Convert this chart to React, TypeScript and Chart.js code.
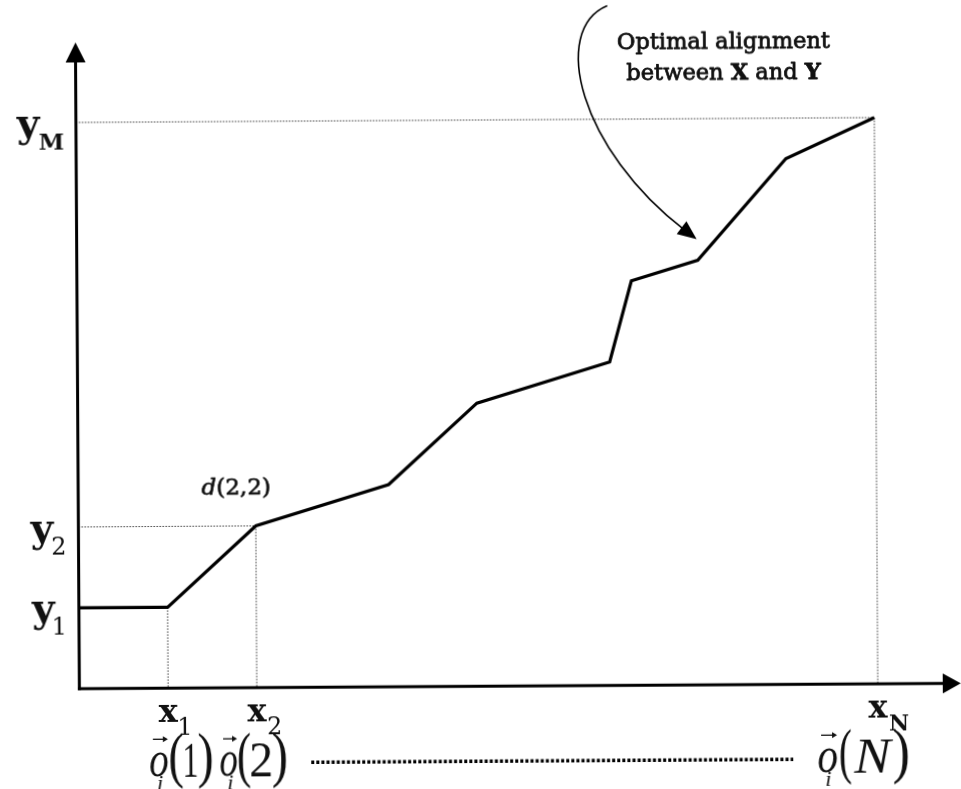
import React, { useEffect, useRef } from 'react';
import { Chart, registerables } from 'chart.js';

Chart.register(...registerables);

// Warping path through the (x_n, y_m) grid
const pathX = [0, 1, 2, 3.5, 4.5, 6, 6.25, 7, 8, 9];
const pathY = [1, 1, 2, 2.5, 3.5, 4, 5, 5.25, 6.5, 7];

// Axis marks
const xMarks = [1, 2, 9];
const xMarkSubs = ['1', '2', 'N'];
const yMarks = [1, 2, 7];
const yMarkSubs = ['1', '2', 'M'];
const obsArgs = ['1', '2', 'N'];

// Annotations
const noteLine1 = 'Optimal alignment';
const noteLine2 = ['between ', 'X', ' and ', 'Y'];
const noteBoldParts = ['X', 'Y'];
const notePoint = [7, 5.25];
const costName = 'd';
const costArgs = '(2,2)';
const costPoint = [2, 2];

const X_MAX = 9;
const Y_MAX = 7;

const SERIF = '"DejaVu Serif", serif';
const TIMES = '"Liberation Serif", Tinos, "Times New Roman", Times, serif';
const INK = '#111';

function seg(ctx: any, a: number, b: number, c: number, d: number) {
  ctx.beginPath();
  ctx.moveTo(a, b);
  ctx.lineTo(c, d);
  ctx.stroke();
}

function tri(ctx: any, pts: number[][]) {
  ctx.beginPath();
  ctx.moveTo(pts[0][0], pts[0][1]);
  ctx.lineTo(pts[1][0], pts[1][1]);
  ctx.lineTo(pts[2][0], pts[2][1]);
  ctx.closePath();
  ctx.fill();
}

function isUpper(s: string) {
  return /[A-Z]/.test(s);
}

function heavyText(ctx: any, s: string, x: number, y: number, w: number) {
  ctx.fillText(s, x, y);
  if (w > 0) {
    ctx.lineWidth = w;
    ctx.strokeStyle = ctx.fillStyle;
    ctx.lineJoin = 'round';
    ctx.strokeText(s, x, y);
  }
}

// draw a glyph so that its ink fills the box [l, r] x [t, b]
function fitText(ctx: any, s: string, font: string, l: number, r: number, t: number, b: number) {
  ctx.save();
  ctx.font = font;
  ctx.textAlign = 'left';
  ctx.textBaseline = 'alphabetic';
  const m = ctx.measureText(s);
  const w = m.actualBoundingBoxLeft + m.actualBoundingBoxRight;
  const h = m.actualBoundingBoxAscent + m.actualBoundingBoxDescent;
  const sx = w > 0 ? (r - l) / w : 1;
  const sy = h > 0 ? (b - t) / h : 1;
  ctx.translate(l, t);
  ctx.scale(sx, sy);
  ctx.fillText(s, m.actualBoundingBoxLeft, m.actualBoundingBoxAscent);
  ctx.restore();
}

// ink boxes (relative to group left / baseline) for  o_i ( arg )
const OBS_LAYOUT: Record<string, number[][]> = {
  '1': [[0, 18], [20, 33], [35, 47], [49, 62]],
  '2': [[0, 17], [18, 30], [31, 51], [53, 66]],
  N: [[0, 19], [22, 33], [35, 76], [76, 90]],
};

function drawObs(ctx: any, left: number, base: number, arg: string) {
  const lay = OBS_LAYOUT[arg] || OBS_LAYOUT['2'];
  ctx.fillStyle = INK;
  const [o, po, a, pc] = lay;
  fitText(ctx, 'o', `italic 52px ${TIMES}`, left + o[0], left + o[1], base - 25, base + 0.5);
  // vector arrow over o
  const ay = base - 37;
  const ar = left + o[1];
  ctx.save();
  ctx.strokeStyle = INK;
  ctx.fillStyle = INK;
  ctx.lineWidth = 1.3;
  seg(ctx, left + o[0] + 3, ay, ar - 3, ay);
  tri(ctx, [
    [ar, ay],
    [ar - 5, ay - 3],
    [ar - 5, ay + 3],
  ]);
  ctx.restore();
  // subscript i
  fitText(ctx, 'i', `italic 22px ${TIMES}`, left + 8, left + 13, base, base + 14);
  fitText(ctx, '(', `64px ${TIMES}`, left + po[0], left + po[1], base - 43, base + 13);
  fitText(
    ctx,
    arg,
    isUpper(arg) ? `italic 52px ${TIMES}` : `48px ${TIMES}`,
    left + a[0],
    left + a[1],
    base - 33,
    base + 0.5
  );
  fitText(ctx, ')', `64px ${TIMES}`, left + pc[0], left + pc[1], base - 43, base + 13);
  return left + pc[1];
}

const decor = {
  id: 'decor',
  beforeDraw(chart: any) {
    const { ctx, width, height } = chart;
    ctx.save();
    ctx.fillStyle = '#ffffff';
    ctx.fillRect(0, 0, width, height);
    ctx.restore();
  },
  beforeDatasetsDraw(chart: any) {
    const ctx = chart.ctx;
    const xs = chart.scales.x;
    const ys = chart.scales.y;
    const x0 = xs.getPixelForValue(0);
    const y0 = ys.getPixelForValue(0);

    // dotted guide lines
    ctx.save();
    ctx.strokeStyle = '#3a3a3a';
    ctx.lineWidth = 1;
    ctx.setLineDash([1.5, 1.5]);
    xMarks.forEach((v) => {
      const k = pathX.indexOf(v);
      const py = ys.getPixelForValue(pathY[k]);
      const px = xs.getPixelForValue(v);
      seg(ctx, px, py, px, y0);
    });
    yMarks.forEach((v) => {
      const k = pathY.indexOf(v);
      const px = xs.getPixelForValue(pathX[k]);
      const py = ys.getPixelForValue(v);
      if (px - x0 > 1) seg(ctx, x0, py, px, py);
    });
    ctx.restore();

    // axes with arrow heads
    const topY = ys.getPixelForValue(Y_MAX) - 80;
    const rightX = xs.getPixelForValue(X_MAX) + 83;
    ctx.save();
    ctx.strokeStyle = '#000';
    ctx.fillStyle = '#000';
    ctx.lineWidth = 3;
    seg(ctx, x0, y0 + 1.5, x0, topY + 18);
    tri(ctx, [
      [x0, topY],
      [x0 - 10, topY + 20],
      [x0 + 10, topY + 20],
    ]);
    seg(ctx, x0 - 1.5, y0, rightX - 16, y0);
    tri(ctx, [
      [rightX, y0],
      [rightX - 18, y0 - 10],
      [rightX - 18, y0 + 10],
    ]);
    ctx.restore();
  },
  afterDatasetsDraw(chart: any) {
    const ctx = chart.ctx;
    const xs = chart.scales.x;
    const ys = chart.scales.y;
    const x0 = xs.getPixelForValue(0);
    const y0 = ys.getPixelForValue(0);
    ctx.save();
    ctx.fillStyle = INK;
    ctx.textBaseline = 'alphabetic';

    // y labels
    yMarks.forEach((v, i) => {
      const py = ys.getPixelForValue(v);
      const sub = yMarkSubs[i];
      ctx.font = isUpper(sub) ? `bold 23px ${SERIF}` : `24px ${SERIF}`;
      ctx.textAlign = 'right';
      const subRight = x0 - 12;
      ctx.fillText(sub, subRight, py + 27);
      const m = ctx.measureText(sub);
      const subLeft = subRight - m.actualBoundingBoxLeft;
      ctx.font = `bold 39px ${SERIF}`;
      ctx.fillText('y', subLeft + 1, py + 14);
    });

    // x labels
    xMarks.forEach((v, i) => {
      const px = xs.getPixelForValue(v);
      ctx.font = `bold 32px ${SERIF}`;
      ctx.textAlign = 'center';
      ctx.fillText('x', px, y0 + 34);
      const w = ctx.measureText('x').actualBoundingBoxRight;
      const sub = xMarkSubs[i];
      ctx.font = isUpper(sub) ? `bold 22px ${SERIF}` : `24px ${SERIF}`;
      ctx.textAlign = 'left';
      const m = ctx.measureText(sub);
      ctx.fillText(sub, px + w + 0.5 + m.actualBoundingBoxLeft, y0 + 47);
    });

    // observation vectors row
    const base = y0 + 88;
    drawObs(ctx, xs.getPixelForValue(xMarks[0]) - 18.5, base, obsArgs[0]);
    const g2Right = drawObs(ctx, xs.getPixelForValue(xMarks[1]) - 37, base, obsArgs[1]);
    const gNLeft = xs.getPixelForValue(xMarks[2]) - 60;
    drawObs(ctx, gNLeft, base, obsArgs[2]);
    ctx.save();
    ctx.strokeStyle = '#000';
    ctx.lineWidth = 3.4;
    ctx.setLineDash([3, 2.1]);
    seg(ctx, g2Right + 25, base - 13, gNLeft - 25, base - 13);
    ctx.restore();

    // cost label d(2,2)
    {
      const cx = xs.getPixelForValue(costPoint[0]) - 54;
      const cy = ys.getPixelForValue(costPoint[1]) - 31.5;
      ctx.textAlign = 'left';
      ctx.font = `italic 23px ${SERIF}`;
      heavyText(ctx, costName, cx, cy, 0.7);
      const w = ctx.measureText(costName).width;
      ctx.font = `23px ${SERIF}`;
      heavyText(ctx, costArgs, cx + w, cy, 0.7);
    }

    // note + curved arrow
    const tx = xs.getPixelForValue(notePoint[0]) - 1;
    const ty = ys.getPixelForValue(notePoint[1]) - 21;
    const p0 = [tx - 88, ty - 234];
    const p1 = [tx - 146, ty - 210];
    const p2 = [tx - 116, ty - 90];
    const dx = tx - p2[0];
    const dy = ty - p2[1];
    const dl = Math.hypot(dx, dy);
    const ux = dx / dl;
    const uy = dy / dl;
    const bx = tx - 19 * ux;
    const by = ty - 19 * uy;
    ctx.save();
    ctx.strokeStyle = '#000';
    ctx.fillStyle = '#000';
    ctx.lineWidth = 1.6;
    ctx.beginPath();
    ctx.moveTo(p0[0], p0[1]);
    ctx.bezierCurveTo(p1[0], p1[1], p2[0], p2[1], bx + 4 * ux, by + 4 * uy);
    ctx.stroke();
    tri(ctx, [
      [tx, ty],
      [bx - 8 * uy, by + 8 * ux],
      [bx + 8 * uy, by - 8 * ux],
    ]);
    ctx.restore();

    const ncx = tx + 28;
    const nb1 = ys.getPixelForValue(Y_MAX) - 70;
    const nb2 = nb1 + 31;
    ctx.fillStyle = INK;
    ctx.textAlign = 'center';
    ctx.font = `22.5px ${SERIF}`;
    heavyText(ctx, noteLine1, ncx, nb1, 0.8);
    ctx.textAlign = 'left';
    const fonts = noteLine2.map((p) =>
      noteBoldParts.includes(p) ? `bold 22.5px ${SERIF}` : `22.5px ${SERIF}`
    );
    const widths = noteLine2.map((p, i) => {
      ctx.font = fonts[i];
      return ctx.measureText(p).width;
    });
    let xx = ncx - widths.reduce((a, b) => a + b, 0) / 2;
    noteLine2.forEach((p, i) => {
      ctx.font = fonts[i];
      heavyText(ctx, p, xx, nb2, 0.8);
      xx += widths[i];
    });

    ctx.restore();
  },
};

export default function App() {
  const ref = useRef<HTMLCanvasElement | null>(null);

  useEffect(() => {
    if (!ref.current) return;
    const chart = new Chart(ref.current, {
      type: 'line',
      data: {
        datasets: [
          {
            data: pathX.map((x, i) => ({ x, y: pathY[i] })),
            borderColor: '#000',
            borderWidth: 3.2,
            pointRadius: 0,
            tension: 0,
            fill: false,
            clip: false,
            borderJoinStyle: 'miter',
            borderCapStyle: 'butt',
          } as any,
        ],
      },
      options: {
        responsive: false,
        animation: false,
        events: [],
        layout: { padding: { left: 77.6, right: 85, top: 120, bottom: 102.7 } },
        plugins: {
          legend: { display: false },
          tooltip: { enabled: false },
          title: { display: false },
        },
        scales: {
          x: { type: 'linear', min: 0, max: X_MAX, display: false },
          y: { type: 'linear', min: 0, max: Y_MAX, display: false },
        },
      },
      plugins: [decor],
    });
    return () => chart.destroy();
  }, []);

  return (
    <div
      style={{
        position: 'absolute',
        left: 0,
        top: 0,
        width: 961,
        height: 789,
        background: '#fff',
        overflow: 'hidden',
      }}
    >
      <canvas
        ref={ref}
        width={961}
        height={789}
        style={{ display: 'block', width: 961, height: 789, transform: 'rotate(-0.35deg)' }}
      />
    </div>
  );
}
